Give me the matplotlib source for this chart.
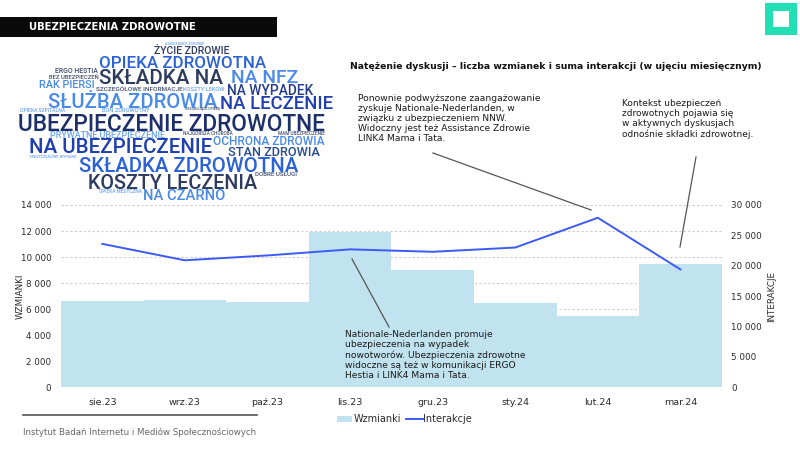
import matplotlib
matplotlib.use("Agg")
import matplotlib.pyplot as plt
from matplotlib.patches import Rectangle
from matplotlib.lines import Line2D
from matplotlib.ticker import FuncFormatter

# Data
months = ["sie.23", "wrz.23", "paź.23", "lis.23", "gru.23", "sty.24", "lut.24", "mar.24"]
mentions = [6600, 6680, 6550, 11900, 9000, 6450, 5500, 9500]
interactions = [23600, 20900, 21700, 22700, 22300, 23000, 27900, 19400]

left_ticks = list(range(0, 14001, 2000))
right_ticks = list(range(0, 30001, 5000))

cloud_words = [
    "ASSISTANCE ZDROWIE", "ŻYCIE ZDROWIE", "OPIEKA ZDROWOTNA", "ERGO HESTIA",
    "SKŁADKA NA", "NA NFZ", "BEZ UBEZPIECZEŃ", "RAK PIERSI",
    "SZCZEGÓŁOWE INFORMACJE", "KOSZTY LEKÓW", "NA WYPADEK", "SŁUŻBA ZDROWIA",
    "NA LECZENIE", "OPIEKA SZPITALNA", "BON ZDROWOTNY", "OBEJMUJĄCE OPIEKĘ",
    "UBEZPIECZENIE ZDROWOTNE", "PRYWATNE UBEZPIECZENIE", "NAJGORSZA CHOROBA",
    "MAM UBEZPIECZENIE", "NA UBEZPIECZENIE", "OCHRONA ZDROWIA", "STAN ZDROWIA",
    "NIESZCZĘŚLIWE WYPADKI", "SKŁADKA ZDROWOTNA", "KOSZTY LECZENIA",
    "DOBRE USŁUGI", "OPIEKA MEDYCZNA", "NA CZARNO",
]

# layout of the word cloud: (left px, right px, baseline px, colour)
NAVY, SLATE, ROYAL, MED, LIGHT, PALE, SMALL = (
    "#1c2f6b", "#2d3b5e", "#1f3fb0", "#2b62d9", "#4a8ae8", "#6aa2f0", "#3b4a6b")
cloud_layout = [
    (165, 204, 44.7, PALE), (154, 230, 54.3, SLATE), (99, 265, 67.7, MED),
    (55, 98, 72.7, SMALL), (99, 223, 84, SLATE), (231, 298, 83.3, LIGHT),
    (49, 99, 79, SMALL), (39, 95, 88.3, LIGHT), (96, 182, 91.3, SMALL),
    (183, 225, 91.3, PALE), (227, 313, 94.7, "#253c8c"), (48, 217, 108.3, LIGHT),
    (220, 332, 109.3, ROYAL), (20, 65, 111.7, PALE), (102, 150, 111.7, PALE),
    (185, 220, 110, SMALL), (18, 325, 130.7, NAVY), (50, 165, 138, PALE),
    (183, 233, 135.3, SMALL), (278, 325, 135, SMALL), (29, 212, 153.3, ROYAL),
    (213, 325, 145.3, LIGHT), (228, 320, 155.7, "#2a4a90"), (30, 77, 157.7, PALE),
    (79, 298, 171.7, MED), (88, 257, 188.7, SLATE), (255, 297, 176.3, SMALL),
    (99, 142, 192.7, PALE), (143, 225, 200, LIGHT),
]

W, H = 800, 450
bar_color = "#c1e3f0"
line_color = "#3d5af5"
text_color = "#2a2a2a"


def fx(x):
    return x / W


def fy(y):
    return 1 - y / H


fig = plt.figure(figsize=(8, 4.5), dpi=100)
fig.patch.set_facecolor("white")
renderer = fig.canvas.get_renderer()


def fit(t, width):
    w = t.get_window_extent(renderer).width
    t.set_fontsize(t.get_fontsize() * width / w)
    return t


# Header bar
fig.add_artist(Rectangle((0, fy(36.7)), fx(276.7), (36.7 - 17.3) / H,
                         transform=fig.transFigure, color="#0a0a0a", lw=0))
fit(fig.text(fx(29.3), fy(27), "UBEZPIECZENIA ZDROWOTNE", color="white",
             fontweight="bold", va="center", ha="left", fontsize=9), 167)

# Teal square logo
fig.add_artist(Rectangle((fx(765), fy(35)), 32 / W, 32 / H,
                         transform=fig.transFigure, color="#22e0b5", lw=0))
fig.add_artist(Rectangle((fx(773), fy(27)), 16 / W, 16 / H,
                         transform=fig.transFigure, color="white", lw=0))

# Word cloud
for word, (x0, x1, yb, col) in zip(cloud_words, cloud_layout):
    t = fig.text(fx(x0), fy(yb), word, color=col, family="Roboto",
                 fontweight="medium", ha="left", va="baseline", fontsize=10)
    fit(t, x1 - x0)

# Chart title
fit(fig.text(fx(350), fy(66.7), "Natężenie dyskusji – liczba wzmianek i suma interakcji (w ujęciu miesięcznym)",
             color="#111111", fontweight="bold", va="center", ha="left", fontsize=8), 407)

# Main axes
ax = fig.add_axes([fx(61), fy(387.3), (721.7 - 61) / W, (387.3 - 205) / H])
x = range(len(months))
ax.bar(x, mentions, width=1.0, color=bar_color, linewidth=0, zorder=2)
ax.set_xlim(-0.5, len(months) - 0.5)
ax.set_ylim(0, 14000)
ax.set_yticks(left_ticks)
ax.set_axisbelow(True)
ax.yaxis.grid(True, linestyle=(0, (2, 2)), color="#cccccc", lw=0.8)
ax.set_xticks(list(x))
ax.set_xticklabels(months)
fmt = FuncFormatter(lambda v, p: f"{int(v):,}".replace(",", " "))
ax.yaxis.set_major_formatter(fmt)
ax.tick_params(axis="y", length=0, pad=7, labelsize=6.3, labelcolor=text_color)
ax.tick_params(axis="x", length=0, pad=8, labelsize=6.8, labelcolor=text_color)
for s in ax.spines.values():
    s.set_visible(False)

ax2 = ax.twinx()
ax2.plot(list(x), interactions, color=line_color, lw=1.4, zorder=3)
ax2.set_ylim(0, 30000)
ax2.set_yticks(right_ticks)
ax2.yaxis.set_major_formatter(fmt)
ax2.tick_params(axis="y", length=0, pad=7, labelsize=6.3, labelcolor=text_color)
for s in ax2.spines.values():
    s.set_visible(False)

fig.text(fx(20), fy(296), "WZMIANKI", rotation=90, ha="center", va="center",
         fontsize=6.3, color=text_color)
fig.text(fx(772), fy(296.5), "INTERAKCJE", rotation=90, ha="center", va="center",
         fontsize=6.3, color=text_color)

# Annotations
notes = [
    (358.3, 94, 183, "Ponownie podwyższone zaangażowanie\nzyskuje Nationale-Nederlanden, w\n"
     "związku z ubezpieczeniem NNW.\nWidoczny jest też Assistance Zdrowie\nLINK4 Mama i Tata."),
    (621.7, 99, 131.6, "Kontekst ubezpieczeń\nzdrowotnych pojawia się\nw aktywnych dyskusjach\n"
     "odnośnie składki zdrowotnej."),
    (345, 330, 180, "Nationale-Nederlanden promuje\nubezpieczenia na wypadek\n"
     "nowotworów. Ubezpieczenia zdrowotne\nwidoczne są też w komunikacji ERGO\nHestia i LINK4 Mama i Tata."),
]
for nx, ny, nw, txt in notes:
    t = fig.text(fx(nx), fy(ny), txt, ha="left", va="top", fontsize=7,
                 color="#1a1a1a", linespacing=1.15, zorder=5)
    fit(t, nw)

for (x0, y0), (x1, y1) in [((433, 153), (591, 210)), ((696, 157), (680, 247)),
                           ((352, 259), (389, 327))]:
    fig.add_artist(Line2D([fx(x0), fx(x1)], [fy(y0), fy(y1)],
                          transform=fig.transFigure, color="#555555", lw=0.9))

# Legend
fig.add_artist(Rectangle((fx(337), fy(421.7)), 15 / W, 6 / H,
                         transform=fig.transFigure, color=bar_color, lw=0))
fig.text(fx(354), fy(418.5), "Wzmianki", ha="left", va="center", fontsize=7, color=text_color)
fig.add_artist(Line2D([fx(406), fx(423)], [fy(418.5), fy(418.5)],
                      transform=fig.transFigure, color=line_color, lw=1.4))
fig.text(fx(423), fy(418.5), "Interakcje", ha="left", va="center", fontsize=7, color=text_color)

# Footer
fig.add_artist(Line2D([fx(23), fx(257)], [fy(415), fy(415)],
                      transform=fig.transFigure, color="#555555", lw=1.2))
fit(fig.text(fx(23), fy(432), "Instytut Badań Internetu i Mediów Społecznościowych",
             ha="left", va="center", fontsize=7, color="#666666"), 234)

fig.savefig("out.png", dpi=100)
